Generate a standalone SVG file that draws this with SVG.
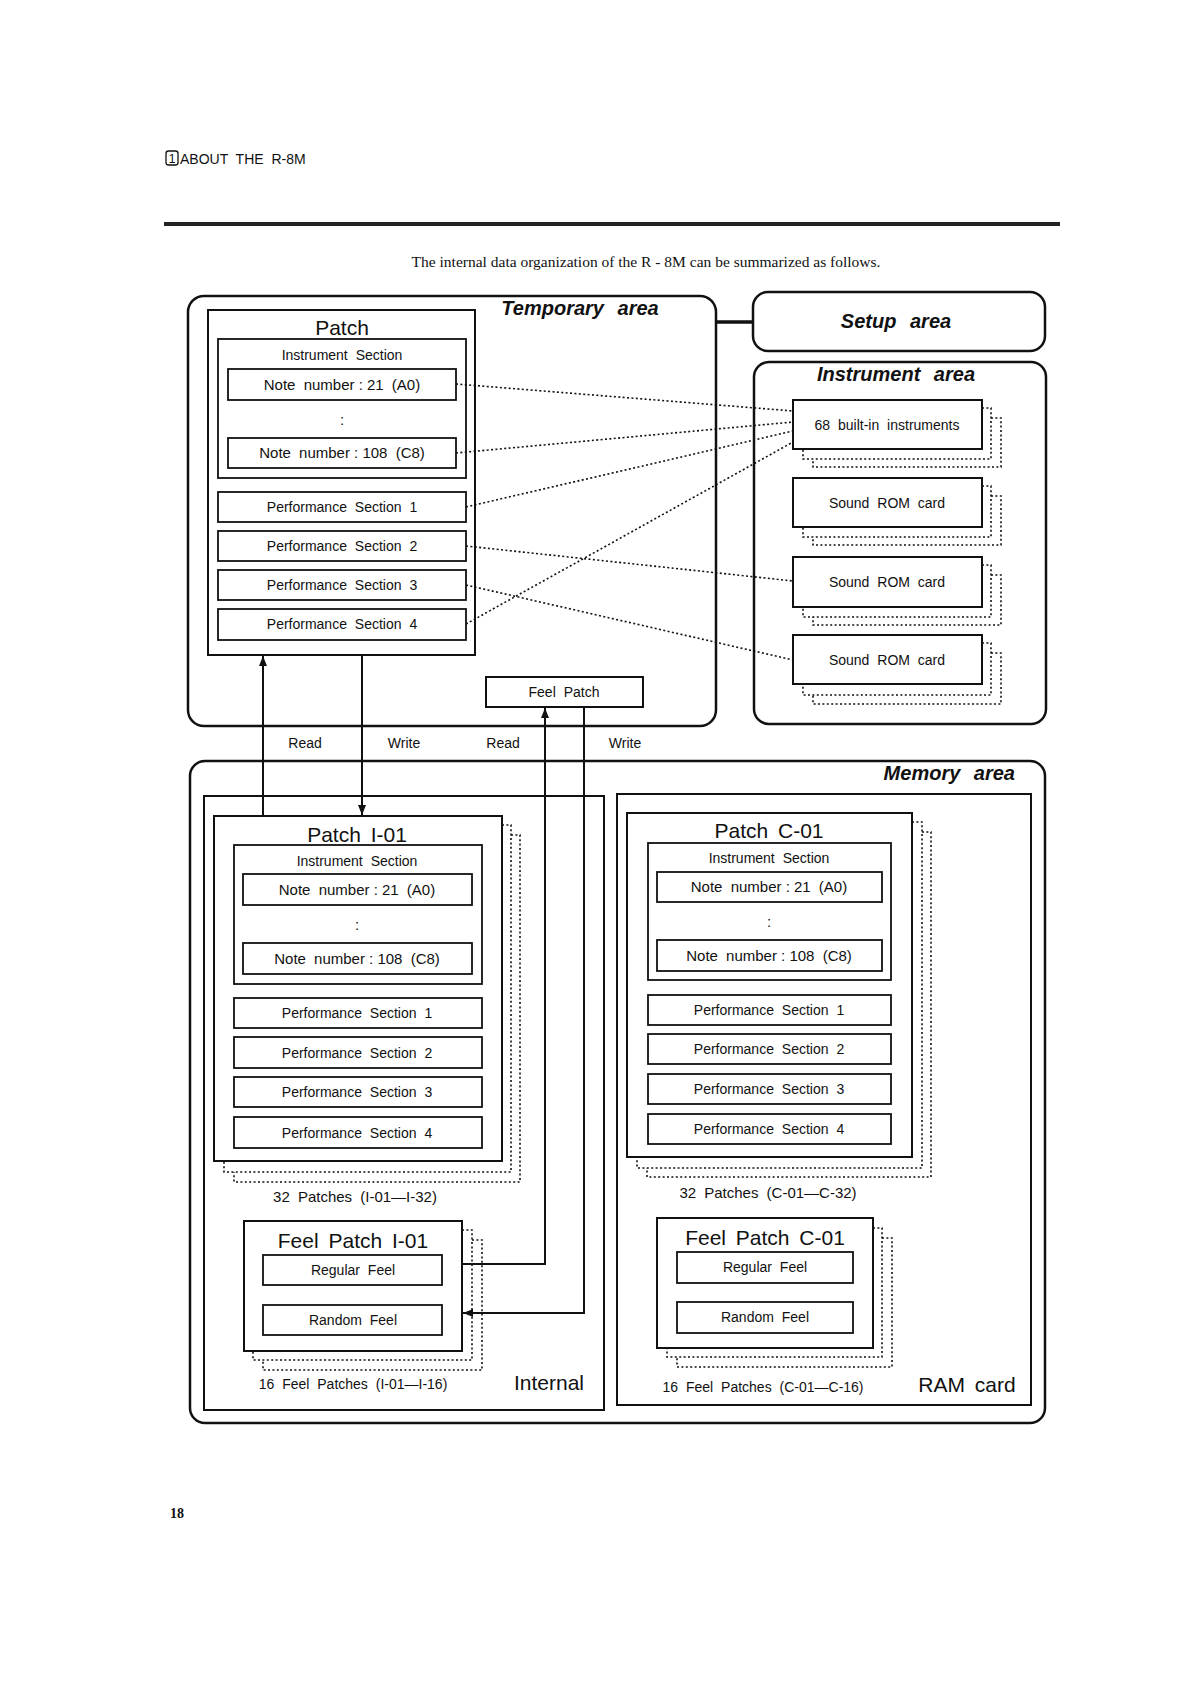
<svg xmlns="http://www.w3.org/2000/svg" width="1190" height="1684" viewBox="0 0 1190 1684">
<defs>
<style>
.area{fill:none;stroke:#111;stroke-width:2.5}
.box{fill:#fff;stroke:#111;stroke-width:2}
.ibox{fill:none;stroke:#111;stroke-width:1.8}
.dot{fill:none;stroke:#111;stroke-width:1.6;stroke-dasharray:2 2.4}
.ln{fill:none;stroke:#111;stroke-width:2}
.t{font-family:"Liberation Sans",Arial,sans-serif;fill:#111;text-anchor:middle}
.s14{font-size:14px;word-spacing:4px}
.s15{font-size:15px;word-spacing:4px}
.s20{font-size:21px;word-spacing:4px}
.bi{font-size:20px;font-weight:bold;font-style:italic;word-spacing:8px}
.c{word-spacing:0px}
.serif{font-family:"Liberation Serif","Times New Roman",serif;fill:#111}
</style>
<marker id="ah" viewBox="0 0 10 10" refX="10" refY="5" markerWidth="10" markerHeight="10" markerUnits="userSpaceOnUse" orient="auto">
<path d="M0,1 L10,5 L0,9 z" fill="#111"/>
</marker>
</defs>
<rect width="1190" height="1684" fill="#fff"/>

<!-- header -->
<g id="header">
<rect x="166" y="151" width="12" height="14" rx="2.5" fill="none" stroke="#111" stroke-width="1.3"/>
<text x="172" y="163" class="t" style="font-size:12px">1</text>
<text x="180" y="164" style="font-family:'Liberation Sans',Arial,sans-serif;font-size:14px;fill:#111;word-spacing:4px">ABOUT THE R-8M</text>
<rect x="164" y="222" width="896" height="4" fill="#222"/>
<text x="646" y="267" class="serif" style="font-size:15.5px;text-anchor:middle">The internal data organization of the R - 8M can be summarized as follows.</text>
<text x="170" y="1518" class="serif" style="font-size:14px;font-weight:bold">18</text>
</g>

<!-- areas -->
<g id="temporary-area">
<rect x="188" y="296" width="528" height="430" rx="16" class="area"/>
<text x="580" y="315" class="t bi">Temporary area</text>
</g>
<g id="setup-area">
<rect x="753" y="292" width="292" height="59" rx="15" class="area"/>
<text x="896" y="328" class="t bi">Setup area</text>
</g>
<g id="instrument-area">
<rect x="754" y="362" width="292" height="362" rx="15" class="area"/>
<text x="896" y="381" class="t bi">Instrument area</text>
</g>
<g id="memory-area">
<rect x="190" y="761" width="855" height="662" rx="15" class="area"/>
<text x="1015" y="780" class="t bi" style="text-anchor:end">Memory area</text>
</g>
<g id="internal">
<rect x="204" y="796" width="400" height="614" class="ln"/>
<text x="549" y="1390" class="t s20">Internal</text>
</g>
<g id="ram-card">
<rect x="617" y="794" width="414" height="611" class="ln"/>
<text x="967" y="1392" class="t s20">RAM card</text>
</g>

<!-- temporary patch -->
<g id="patch">
<rect x="208" y="310" width="267" height="345" class="box"/>
<text x="342" y="335" class="t s20">Patch</text>
<rect x="218" y="339" width="248" height="139" class="ibox"/>
<text x="342" y="360" class="t s14">Instrument Section</text>
<rect x="228" y="369" width="228" height="31" class="ibox"/>
<text x="342" y="390" class="t s15">Note number<tspan class="c"> : </tspan>21 (A0)</text>
<text x="342" y="425" class="t s15">:</text>
<rect x="228" y="438" width="228" height="30" class="ibox"/>
<text x="342" y="458" class="t s15">Note number<tspan class="c"> : </tspan>108 (C8)</text>
<rect x="218" y="492" width="248" height="30" class="ibox"/>
<text x="342" y="512" class="t s14">Performance Section 1</text>
<rect x="218" y="531" width="248" height="30" class="ibox"/>
<text x="342" y="551" class="t s14">Performance Section 2</text>
<rect x="218" y="570" width="248" height="30" class="ibox"/>
<text x="342" y="590" class="t s14">Performance Section 3</text>
<rect x="218" y="609" width="248" height="31" class="ibox"/>
<text x="342" y="629" class="t s14">Performance Section 4</text>
</g>

<g id="feel-patch">
<rect x="486" y="677" width="157" height="30" class="box"/>
<text x="564" y="697" class="t s14">Feel Patch</text>
</g>

<!-- instrument sources -->
<g id="builtin">
<polyline points="982,408 991,408 991,459 803,459 803,449" class="dot"/>
<polyline points="991,418 1001,418 1001,467 813,467 813,459" class="dot"/>
<rect x="793" y="400" width="189" height="49" class="box"/>
<text x="887" y="430" class="t s14">68 built-in instruments</text>
</g>
<g id="rom1">
<polyline points="982,486 991,486 991,537 803,537 803,527" class="dot"/>
<polyline points="991,496 1001,496 1001,545 813,545 813,537" class="dot"/>
<rect x="793" y="478" width="189" height="49" class="box"/>
<text x="887" y="508" class="t s14">Sound ROM card</text>
</g>
<g id="rom2">
<polyline points="982,565 991,565 991,617 803,617 803,607" class="dot"/>
<polyline points="991,575 1001,575 1001,625 813,625 813,617" class="dot"/>
<rect x="793" y="557" width="189" height="50" class="box"/>
<text x="887" y="587" class="t s14">Sound ROM card</text>
</g>
<g id="rom3">
<polyline points="982,643 991,643 991,695 803,695 803,684" class="dot"/>
<polyline points="991,653 1001,653 1001,704 813,704 813,695" class="dot"/>
<rect x="793" y="635" width="189" height="49" class="box"/>
<text x="887" y="665" class="t s14">Sound ROM card</text>
</g>

<!-- Patch I-01 -->
<g id="patch-i01">
<polyline points="502,825 511,825 511,1172 224,1172 224,1161" class="dot"/>
<polyline points="511,835 520,835 520,1182 234,1182 234,1172" class="dot"/>
<rect x="214" y="816" width="288" height="345" class="box"/>
<text x="357" y="842" class="t s20">Patch I-01</text>
<rect x="234" y="845" width="248" height="139" class="ibox"/>
<text x="357" y="866" class="t s14">Instrument Section</text>
<rect x="243" y="874" width="229" height="31" class="ibox"/>
<text x="357" y="895" class="t s15">Note number<tspan class="c"> : </tspan>21 (A0)</text>
<text x="357" y="930" class="t s15">:</text>
<rect x="243" y="943" width="229" height="31" class="ibox"/>
<text x="357" y="964" class="t s15">Note number<tspan class="c"> : </tspan>108 (C8)</text>
<rect x="234" y="998" width="248" height="30" class="ibox"/>
<text x="357" y="1018" class="t s14">Performance Section 1</text>
<rect x="234" y="1037" width="248" height="31" class="ibox"/>
<text x="357" y="1058" class="t s14">Performance Section 2</text>
<rect x="234" y="1077" width="248" height="30" class="ibox"/>
<text x="357" y="1097" class="t s14">Performance Section 3</text>
<rect x="234" y="1117" width="248" height="31" class="ibox"/>
<text x="357" y="1138" class="t s14">Performance Section 4</text>
<text x="355" y="1202" class="t s15">32 Patches (I-01—I-32)</text>
</g>

<!-- Patch C-01 -->
<g id="patch-c01">
<polyline points="912,822 922,822 922,1168 637,1168 637,1157" class="dot"/>
<polyline points="922,832 931,832 931,1177 647,1177 647,1168" class="dot"/>
<rect x="627" y="813" width="285" height="344" class="box"/>
<text x="769" y="838" class="t s20">Patch C-01</text>
<rect x="648" y="843" width="243" height="137" class="ibox"/>
<text x="769" y="863" class="t s14">Instrument Section</text>
<rect x="657" y="872" width="225" height="30" class="ibox"/>
<text x="769" y="892" class="t s15">Note number<tspan class="c"> : </tspan>21 (A0)</text>
<text x="769" y="927" class="t s15">:</text>
<rect x="657" y="940" width="225" height="31" class="ibox"/>
<text x="769" y="961" class="t s15">Note number<tspan class="c"> : </tspan>108 (C8)</text>
<rect x="648" y="995" width="243" height="30" class="ibox"/>
<text x="769" y="1015" class="t s14">Performance Section 1</text>
<rect x="648" y="1034" width="243" height="30" class="ibox"/>
<text x="769" y="1054" class="t s14">Performance Section 2</text>
<rect x="648" y="1074" width="243" height="30" class="ibox"/>
<text x="769" y="1094" class="t s14">Performance Section 3</text>
<rect x="648" y="1114" width="243" height="30" class="ibox"/>
<text x="769" y="1134" class="t s14">Performance Section 4</text>
<text x="768" y="1198" class="t s15">32 Patches (C-01—C-32)</text>
</g>

<!-- Feel Patch I-01 -->
<g id="feel-i01">
<polyline points="462,1230 472,1230 472,1360 253,1360 253,1351" class="dot"/>
<polyline points="472,1240 482,1240 482,1370 263,1370 263,1360" class="dot"/>
<rect x="244" y="1221" width="218" height="130" class="box"/>
<text x="353" y="1248" class="t s20">Feel Patch I-01</text>
<rect x="263" y="1255" width="179" height="30" class="ibox"/>
<text x="353" y="1275" class="t s14">Regular Feel</text>
<rect x="263" y="1305" width="179" height="30" class="ibox"/>
<text x="353" y="1325" class="t s14">Random Feel</text>
<text x="353" y="1389" class="t s14">16 Feel Patches (I-01—I-16)</text>
</g>

<!-- Feel Patch C-01 -->
<g id="feel-c01">
<polyline points="873,1228 882,1228 882,1357 667,1357 667,1348" class="dot"/>
<polyline points="882,1238 892,1238 892,1367 677,1367 677,1357" class="dot"/>
<rect x="657" y="1218" width="216" height="130" class="box"/>
<text x="765" y="1245" class="t s20">Feel Patch C-01</text>
<rect x="677" y="1252" width="176" height="31" class="ibox"/>
<text x="765" y="1272" class="t s14">Regular Feel</text>
<rect x="677" y="1302" width="176" height="31" class="ibox"/>
<text x="765" y="1322" class="t s14">Random Feel</text>
<text x="763" y="1392" class="t s14">16 Feel Patches (C-01—C-16)</text>
</g>

<!-- connectors -->
<g id="connectors">
<line x1="716" y1="322" x2="753" y2="322" stroke="#111" stroke-width="3.5"/>
<line x1="456" y1="384" x2="793" y2="411" class="dot"/>
<line x1="456" y1="453" x2="793" y2="422" class="dot"/>
<line x1="466" y1="507" x2="793" y2="431" class="dot"/>
<line x1="466" y1="624" x2="793" y2="442" class="dot"/>
<line x1="466" y1="546" x2="793" y2="581" class="dot"/>
<line x1="466" y1="585" x2="793" y2="660" class="dot"/>
<line x1="263" y1="816" x2="263" y2="656" class="ln" marker-end="url(#ah)"/>
<line x1="362" y1="655" x2="362" y2="815" class="ln" marker-end="url(#ah)"/>
<polyline points="462,1264 545,1264 545,708" class="ln" marker-end="url(#ah)"/>
<polyline points="584,707 584,1313 463,1313" class="ln" marker-end="url(#ah)"/>
<text x="305" y="748" class="t s14">Read</text>
<text x="404" y="748" class="t s14">Write</text>
<text x="503" y="748" class="t s14">Read</text>
<text x="625" y="748" class="t s14">Write</text>
</g>
</svg>
